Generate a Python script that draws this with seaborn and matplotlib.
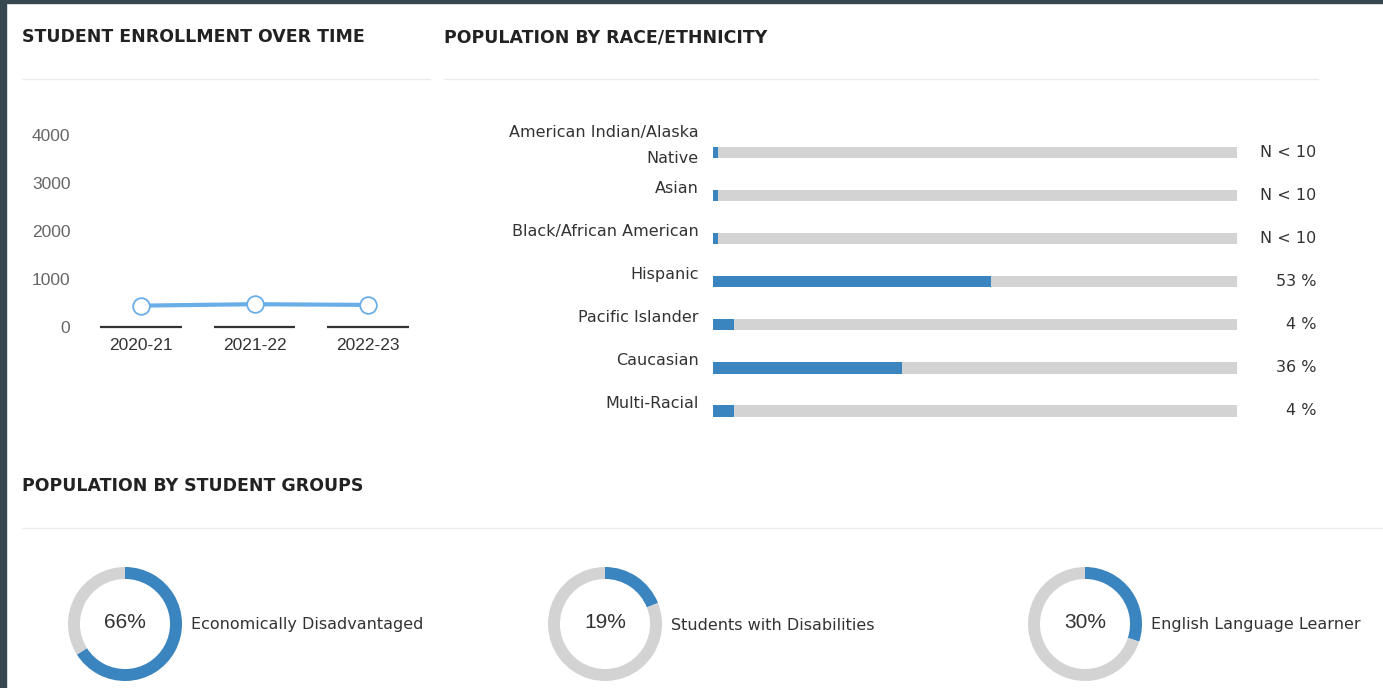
import textwrap
import matplotlib
matplotlib.use("Agg")
import matplotlib.pyplot as plt
from matplotlib.patches import Rectangle
import seaborn as sns

# data
years = ["2020-21", "2021-22", "2022-23"]
enrollment = [445, 475, 460]

races = ["American Indian/Alaska Native", "Asian", "Black/African American",
         "Hispanic", "Pacific Islander", "Caucasian", "Multi-Racial"]
race_pct = [1, 1, 1, 53, 4, 36, 4]
race_labels = ["N < 10", "N < 10", "N < 10", "53 %", "4 %", "36 %", "4 %"]

groups = ["Economically Disadvantaged", "Students with Disabilities", "English Language Learner"]
group_pct = [66, 19, 30]

BLUE = "#3a85c0"
GRAY = "#d3d3d3"
LINE = "#6aaee8"
W, H = 1383, 688

sns.set_style("white")
plt.rcParams["font.family"] = ["DejaVu Sans"]

fig = plt.figure(figsize=(W / 100, H / 100), dpi=100)
fig.patch.set_facecolor("white")


def rect(x0, y0, x1, y1):
    # pixel box (top-left origin) -> figure fraction
    return [x0 / W, 1 - y1 / H, (x1 - x0) / W, (y1 - y0) / H]


def ftext(x, y, s, **kw):
    fig.text(x / W, 1 - y / H, s, **kw)


def hline(x0, x1, y):
    fig.add_artist(plt.Line2D([x0 / W, x1 / W], [1 - y / H, 1 - y / H],
                              color="#ececec", lw=1, transform=fig.transFigure))


# dark frame on the left/top edge
fig.add_artist(Rectangle((0, 0), 6 / W, 1, transform=fig.transFigure, color="#37474f", zorder=10))
fig.add_artist(Rectangle((0, 1 - 3 / H), 1, 3 / H, transform=fig.transFigure, color="#37474f", zorder=10))

# section titles
title_kw = dict(fontsize=12.5, fontweight="bold", color="#222222", va="center", ha="left")
ftext(22, 37, "STUDENT ENROLLMENT OVER TIME", **title_kw)
ftext(444, 37, "POPULATION BY RACE/ETHNICITY", **title_kw)
ftext(22, 486, "POPULATION BY STUDENT GROUPS", **title_kw)
hline(22, 430, 79)
hline(444, 1318, 79)
hline(22, 1383, 528)

# 1. enrollment line chart
ax1 = fig.add_axes(rect(84.25, 125.4, 424.75, 327))
sns.lineplot(x=years, y=enrollment, ax=ax1, color=LINE, linewidth=3, marker="o",
             markersize=12, markerfacecolor="white", markeredgecolor=LINE,
             markeredgewidth=1.3, zorder=5)
for i in range(len(years)):
    ax1.hlines(0, i - 0.357, i + 0.357, color="#333333", lw=1.6, clip_on=False, zorder=3)
ax1.set_xlim(-0.5, 2.5)
ax1.set_ylim(0, 4200)
ax1.set_yticks([0, 1000, 2000, 3000, 4000])
ax1.tick_params(axis="y", length=0, pad=10, labelsize=12.5, labelcolor="#666666")
ax1.tick_params(axis="x", length=0, pad=8, labelsize=12.5, labelcolor="#333333")
for lab in ax1.get_xticklabels() + ax1.get_yticklabels():
    lab.set_family("Liberation Sans")
ax1.set_xlabel("")
ax1.set_ylabel("")
sns.despine(ax=ax1, left=True, bottom=True)
ax1.grid(False)

# 2. race / ethnicity bars
ax2 = fig.add_axes(rect(713, 131.2, 1237, 432.5))
sns.barplot(x=[100] * len(races), y=races, color=GRAY, width=0.26, ax=ax2,
            saturation=1, linewidth=0)
sns.barplot(x=race_pct, y=races, color=BLUE, width=0.26, ax=ax2,
            saturation=1, linewidth=0)
ax2.set_xlim(0, 100)
ax2.set_ylim(len(races) - 0.5, -0.5)
ax2.axis("off")
lab_x = -14 / 524 * 100
val_x = (1316 - 713) / 524 * 100
for i, (name, val) in enumerate(zip(races, race_labels)):
    ax2.text(lab_x, i - 0.17, textwrap.fill(name, 22), ha="right", va="center",
             fontsize=11.5, color="#333333", linespacing=1.9, clip_on=False)
    ax2.text(val_x, i, val, ha="right", va="center", fontsize=11.5,
             color="#333333", clip_on=False)

# 3. student group donuts
for k, (name, pct) in enumerate(zip(groups, group_pct)):
    cx = 125 + 480 * k
    cy = 624
    r = 57
    ax = fig.add_axes(rect(cx - r, cy - r, cx + r, cy + r))
    ax.pie([pct, 100 - pct], colors=[BLUE, GRAY], startangle=90, counterclock=False,
           radius=1, wedgeprops=dict(width=0.21, edgecolor="none"))
    ax.set_xlim(-1, 1)
    ax.set_ylim(-1, 1)
    ax.set_aspect("equal")
    ax.axis("off")
    ax.text(0, 0.02, f"{pct}%", ha="center", va="center", fontsize=15,
            family="Liberation Sans", color="#333333")
    ftext(cx + 66, cy + 1, name, ha="left", va="center", fontsize=11.5, color="#333333")

fig.savefig("out.png", dpi=100, facecolor="white")
